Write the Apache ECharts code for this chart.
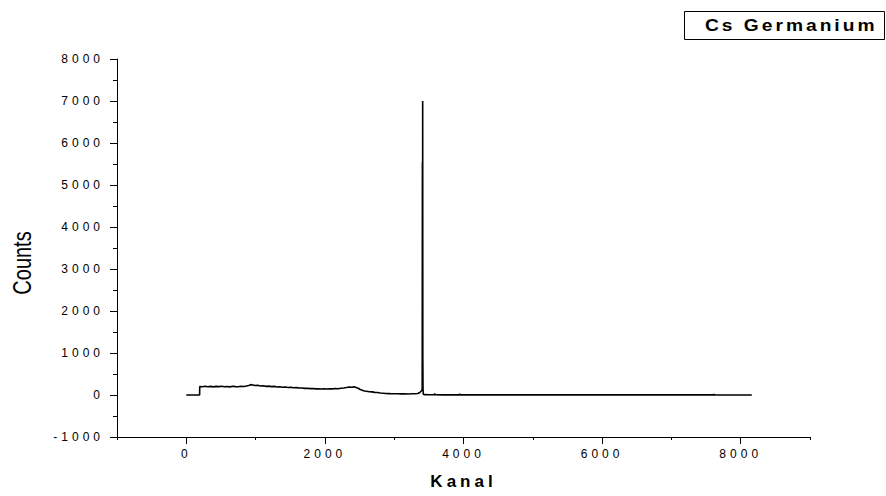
<!DOCTYPE html>
<html>
<head>
<meta charset="utf-8">
<script src="https://cdn.jsdelivr.net/npm/echarts@6/dist/echarts.min.js"></script>
<style>
  html, body { margin: 0; padding: 0; background: #fff; }
  #chart { width: 886px; height: 496px; }
</style>
</head>
<body>
<div id="chart"></div>
<script>
// spectrum: channel -> counts
var channels = [
  0, 192, 194, 230, 270, 310, 350, 390, 430, 470, 510, 550, 590, 630, 670, 710, 750, 790, 830, 870,
  900, 930, 960, 990, 1030, 1070, 1110, 1150, 1190, 1230, 1270, 1310, 1350, 1390, 1430, 1470, 1510, 1550, 1590, 1630,
  1670, 1710, 1750, 1790, 1830, 1870, 1910, 1950, 1990, 2030, 2070, 2110, 2150, 2190, 2230, 2270, 2310, 2350, 2390, 2420,
  2450, 2480, 2510, 2540, 2570, 2600, 2640, 2680, 2720, 2760, 2800, 2840, 2880, 2920, 2960, 3000, 3050, 3100, 3150, 3200,
  3250, 3300, 3340, 3370, 3390, 3400, 3404, 3407, 3409, 3411, 3413, 3416, 3420, 3440, 3500, 3580, 3584, 3588, 3700, 3940,
  3944, 3948, 4200, 5000, 6000, 7000, 7614, 7618, 7622, 8160
];
var counts = [
  0, 0, 200, 196, 208, 198, 205, 194, 206, 199, 210, 197, 204, 193, 207, 200, 196, 209, 203, 215,
  228, 246, 240, 226, 231, 214, 220, 206, 212, 199, 205, 192, 198, 186, 190, 178, 184, 172, 176, 165,
  168, 158, 162, 151, 156, 146, 150, 142, 147, 141, 149, 145, 153, 150, 162, 168, 178, 190, 186, 194,
  178, 160, 132, 112, 96, 90, 78, 74, 62, 58, 46, 42, 36, 33, 30, 28, 31, 26, 29, 25,
  28, 30, 36, 60, 95, 110, 160, 5550, 1300, 7000, 900, 140, 20, 8, 6, 5, 38, 5, 4, 4,
  30, 4, 3, 3, 2, 2, 2, 22, 2, 1
];
var xLabelValues = [0, 2000, 4000, 6000, 8000];
var seriesName = 'Cs Germanium';

var font = "'Liberation Sans', Arial, sans-serif";
var data = channels.map(function (c, i) { return [c, counts[i]]; });

var chart = echarts.init(document.getElementById('chart'), null, { renderer: 'svg' });

var option = {
  animation: false,
  backgroundColor: '#fff',
  grid: { left: 117, right: 76, top: 59, bottom: 59, outerBoundsMode: 'none' },
  xAxis: [{
    type: 'value',
    min: -1000,
    max: 9000,
    interval: 1000,
    splitLine: { show: false },
    axisLine: { onZero: false, lineStyle: { color: '#000', width: 1 } },
    axisTick: { length: 3, lineStyle: { color: '#000' } },
    axisLabel: {
      color: '#000', fontFamily: font, fontSize: 12, margin: 11,
      formatter: function (v) { return xLabelValues.indexOf(v) >= 0 ? String(v) : ''; }
    },
    name: 'Kanal',
    nameLocation: 'middle',
    nameGap: 36,
    nameTextStyle: { color: '#000', fontFamily: font, fontSize: 17, fontWeight: 'bold' }
  }, {
    type: 'value',
    position: 'bottom',
    min: -1000,
    max: 9000,
    splitLine: { show: false },
    axisLine: { show: false, onZero: false },
    axisTick: { length: 7, customValues: xLabelValues, lineStyle: { color: '#000' } },
    axisLabel: { show: false }
  }],
  yAxis: {
    type: 'value',
    min: -1000,
    max: 8000,
    interval: 1000,
    splitLine: { show: false },
    axisLine: { show: true, onZero: false, lineStyle: { color: '#000', width: 1 } },
    axisTick: { show: true, length: 7, lineStyle: { color: '#000' } },
    minorTick: { show: true, splitNumber: 2, length: 4, lineStyle: { color: '#000' } },
    axisLabel: {
      color: '#000', fontFamily: font, fontSize: 12, margin: 13,
      formatter: function (v) { return String(v); }
    }
  },
  graphic: [
    {
      type: 'text',
      x: 22.5,
      y: 263,
      rotation: Math.PI / 2,
      scaleX: 1,
      scaleY: 1.3,
      style: { text: 'Counts', font: '20px ' + font, fill: '#000', textAlign: 'center', textVerticalAlign: 'middle' }
    },
    {
      type: 'rect',
      shape: { x: 684.5, y: 11.5, width: 200, height: 28 },
      style: { fill: '#fff', stroke: '#000', lineWidth: 1 }
    },
    {
      type: 'text',
      x: 705,
      y: 26,
      scaleX: 1.2,
      style: { text: seriesName, font: 'bold 16px ' + font, fill: '#000', textAlign: 'left', textVerticalAlign: 'middle' }
    }
  ],
  series: [{
    name: seriesName,
    type: 'line',
    xAxisIndex: 0,
    data: data,
    symbol: 'none',
    silent: true,
    lineStyle: { color: '#000', width: 1.6 }
  }]
};

chart.setOption(option);

// the original lettering is spaced wide
document.querySelectorAll('#chart text').forEach(function (t) {
  var s = t.textContent;
  if (/^-?\d+$/.test(s)) t.style.letterSpacing = '4px';
  else if (s === 'Kanal') t.style.letterSpacing = '4px';
  else if (s === seriesName) t.style.letterSpacing = '2.5px';
});
</script>
</body>
</html>
